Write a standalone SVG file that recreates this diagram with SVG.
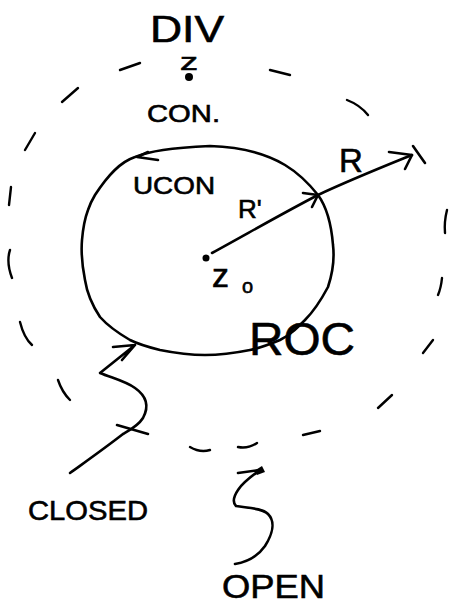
<svg xmlns="http://www.w3.org/2000/svg" width="451" height="605" viewBox="0 0 451 605">
<style>
.ink{fill:none;stroke:#000;stroke-width:2.6;stroke-linecap:round;stroke-linejoin:round}
.dash{fill:none;stroke:#000;stroke-width:2.4;stroke-linecap:round}
.lbl{font-family:"Liberation Sans","DejaVu Sans",sans-serif;fill:#000;stroke:#000;stroke-width:0.6}
</style>
<rect width="451" height="605" fill="#fff"/>
<g id="outer-boundary">
<path class="dash" d="M120,70 L140,63"/>
<path class="dash" d="M270,70 L290,75"/>
<path class="dash" d="M347,100 Q360,105 368,115"/>
<path class="dash" d="M62,102 L78,88"/>
<path class="dash" d="M25,150 L35,133"/>
<path class="dash" d="M11,187 L9,205"/>
<path class="dash" d="M10,250 Q6,262 12,278"/>
<path class="dash" d="M20,322 Q24,338 32,345"/>
<path class="dash" d="M58,380 Q62,392 70,400"/>
<path class="dash" d="M190,447 Q200,453 210,450"/>
<path class="dash" d="M238,447 Q248,449 257,443"/>
<path class="dash" d="M303,435 L320,431"/>
<path class="dash" d="M392,395 L378,408"/>
<path class="dash" d="M433,340 L423,353"/>
<path class="dash" d="M442,278 Q441,288 438,295"/>
<path class="dash" d="M447,210 Q444,222 445,233"/>
</g>
<g id="roc-circle">
<path class="ink" d="M95,195 C108,175 120,162 135,157 C150,151 170,148 210,146 C240,147 265,153 285,165 C300,174 310,185 318,195 C326,206 331,220 333,245 C335,262 332,275 328,287 C320,302 314,311 305,320 C295,330 290,335 280,340 C268,345 260,348 250,350 C235,353 220,355 205,355 C190,355 175,353 160,350 C148,347 140,345 130,340 C118,333 108,326 100,317 C92,305 87,293 85,280 C82,265 81,252 82,240 C83,228 85,218 88,210 C90,204 92,200 95,195 Z"/>
<path class="ink" d="M137,157 L158,160 M137,157 L148,152"/>
</g>
<g id="center-z0">
<circle cx="206" cy="258" r="3.5" fill="#000"/>
<text class="lbl" x="212" y="287" font-size="34">z</text>
<text class="lbl" x="242" y="293" font-size="20">o</text>
</g>
<g id="div-point">
<circle cx="189" cy="77" r="4" fill="#000"/>
<text class="lbl" x="180" y="70" font-size="24" textLength="18" lengthAdjust="spacingAndGlyphs">z</text>
<text class="lbl" x="150" y="42" font-size="36" textLength="74" lengthAdjust="spacingAndGlyphs">DIV</text>
</g>
<g id="labels">
<text class="lbl" x="147" y="122" font-size="24" textLength="73" lengthAdjust="spacingAndGlyphs">CON.</text>
<text class="lbl" x="133" y="194" font-size="24" textLength="82" lengthAdjust="spacingAndGlyphs">UCON</text>
<text class="lbl" x="238" y="218" font-size="26">R'</text>
<text class="lbl" x="339" y="172" font-size="33">R</text>
<text class="lbl" x="249" y="355" font-size="46" textLength="106" lengthAdjust="spacingAndGlyphs">ROC</text>
<text class="lbl" x="28" y="520" font-size="28" textLength="120" lengthAdjust="spacingAndGlyphs">CLOSED</text>
<text class="lbl" x="222" y="598" font-size="34" textLength="103" lengthAdjust="spacingAndGlyphs">OPEN</text>
</g>
<g id="connectors">
<path class="ink" d="M212,253 C245,235 285,212 318,195"/>
<path class="ink" d="M303,193 L318,195 L312,207"/>
<path class="ink" d="M318,195 C350,180 380,168 412,155"/>
<path class="ink" d="M389,152 L412,155 L405,169"/>
<path class="ink" d="M413,146 Q420,156 425,163"/>
<path class="ink" d="M135,345 L113,347 M135,345 L122,360 M135,345 L100,373 C112,378 125,381 135,388 C145,395 150,405 143,418 C138,426 130,430 123,434 C105,448 88,460 70,473"/>
<path class="ink" d="M117,425 L148,434"/>
<path class="ink" d="M238,473 L260,470 M260,470 C252,476 243,482 238,490 C234,496 232,502 236,506 C248,508 262,508 268,514 C276,522 272,535 265,546 C258,556 248,562 235,564"/>
<path d="M254,471 L262,466 L265,472 L257,475 Z" fill="#000"/>
</g>
</svg>
